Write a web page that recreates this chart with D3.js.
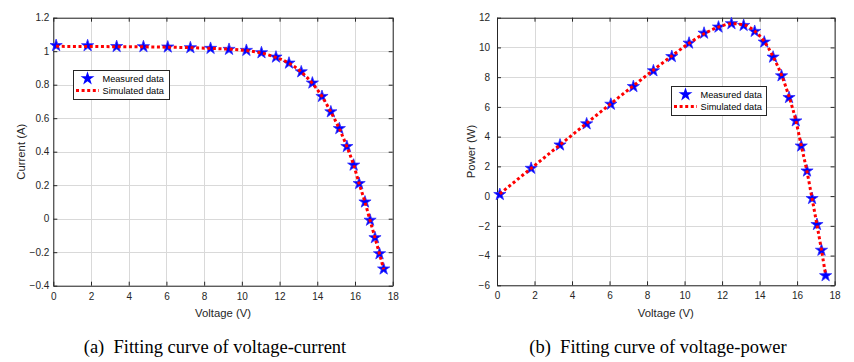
<!DOCTYPE html>
<html><head><meta charset="utf-8">
<script src="https://cdn.jsdelivr.net/npm/d3@7"></script>
<style>
html,body{margin:0;padding:0;background:#fff;}
svg{display:block;}
</style></head>
<body>
<svg id="c" width="854" height="362"></svg>
<script>
// ---- data ----
const measuredVoltage = [0.15, 1.82, 3.36, 4.78, 6.07, 7.27, 8.34, 9.32, 10.24, 11.04, 11.81, 12.5, 13.15, 13.74, 14.25, 14.72, 15.17, 15.57, 15.93, 16.22, 16.53, 16.8, 17.06, 17.3, 17.52];
const measuredCurrent = [1.034, 1.033, 1.028, 1.027, 1.025, 1.021, 1.017, 1.011, 1.005, 0.991, 0.965, 0.929, 0.877, 0.81, 0.73, 0.638, 0.538, 0.431, 0.32, 0.21, 0.1, -0.009, -0.113, -0.209, -0.3];
const measuredPower = [0.11, 1.87, 3.44, 4.86, 6.18, 7.37, 8.43, 9.39, 10.29, 10.96, 11.37, 11.6, 11.48, 11.08, 10.36, 9.35, 8.09, 6.63, 5.06, 3.37, 1.69, -0.16, -1.91, -3.64, -5.35];
const simVoltage = [0.15, 1.82, 3.36, 4.78, 6.07, 7.27, 8.34, 9.32, 10.24, 11.04, 11.81, 12.5, 13.15, 13.74, 14.25, 14.72, 15.17, 15.57, 15.93, 16.22, 16.53, 16.8, 17.06, 17.3, 17.52];
const simCurrent = [1.029, 1.028, 1.027, 1.026, 1.024, 1.021, 1.017, 1.012, 1.004, 0.989, 0.963, 0.928, 0.876, 0.808, 0.73, 0.637, 0.537, 0.43, 0.32, 0.21, 0.099, -0.01, -0.114, -0.21, -0.302];
const simPower = [0.15, 1.87, 3.45, 4.9, 6.22, 7.42, 8.48, 9.43, 10.28, 10.92, 11.37, 11.6, 11.52, 11.1, 10.4, 9.38, 8.14, 6.69, 5.1, 3.41, 1.64, -0.17, -1.94, -3.63, -5.29];
const xTicks = [0, 2, 4, 6, 8, 10, 12, 14, 16, 18];
const currentTicks = [-0.4, -0.2, 0, 0.2, 0.4, 0.6, 0.8, 1, 1.2];
const powerTicks = [-6, -4, -2, 0, 2, 4, 6, 8, 10, 12];
const legendLabels = ["Measured data", "Simulated data"];
const captions = ["(a)\u2002Fitting curve of voltage-current", "(b)\u2002Fitting curve of voltage-power"];
const xLabel = "Voltage (V)";
const yLabels = ["Current (A)", "Power (W)"];

const svg = d3.select("#c");
const FONT = "Liberation Sans, Arial, sans-serif";

function chart(cfg) {
  const g = svg.append("g");
  const x = d3.scaleLinear().domain([0, 18]).range([cfg.left, cfg.right]);
  const y = d3.scaleLinear().domain(cfg.ydom).range([cfg.bottom, cfg.top]);
  // grid
  g.append("g").selectAll("line").data(xTicks).join("line")
    .attr("x1", d => Math.round(x(d)) + 0.5).attr("x2", d => Math.round(x(d)) + 0.5)
    .attr("y1", cfg.top).attr("y2", cfg.bottom)
    .attr("stroke", "#d9d9d9").attr("stroke-width", 1);
  g.append("g").selectAll("line").data(cfg.yticks).join("line")
    .attr("y1", d => Math.round(y(d)) + 0.5).attr("y2", d => Math.round(y(d)) + 0.5)
    .attr("x1", cfg.left).attr("x2", cfg.right)
    .attr("stroke", "#d9d9d9").attr("stroke-width", 1);
  // axes
  const tl = 4;
  const ax = [
    [d3.axisBottom(x).tickValues(xTicks).tickSizeInner(-tl).tickSizeOuter(0).tickPadding(7), `translate(0,${cfg.bottom})`, true],
    [d3.axisTop(x).tickValues(xTicks).tickSizeInner(-tl).tickSizeOuter(0).tickFormat(""), `translate(0,${cfg.top})`, false],
    [d3.axisLeft(y).tickValues(cfg.yticks).tickSizeInner(-tl).tickSizeOuter(0).tickPadding(cfg.ypad).tickFormat(d3.format("")), `translate(${cfg.left},0)`, true],
    [d3.axisRight(y).tickValues(cfg.yticks).tickSizeInner(-tl).tickSizeOuter(0).tickFormat(""), `translate(${cfg.right},0)`, false]
  ];
  ax.forEach(([a, t]) => {
    const ag = g.append("g").attr("transform", t).call(a);
    ag.select(".domain").attr("stroke", "#262626");
    ag.selectAll(".tick line").attr("stroke", "#262626");
    ag.selectAll("text").attr("font-family", FONT).attr("font-size", 10).attr("fill", "#262626");
  });
  // stars
  const star = d3.symbol().type(d3.symbolStar).size(46);
  g.append("g").selectAll("path").data(measuredVoltage).join("path")
    .attr("transform", (d, i) => `translate(${x(d)},${y(cfg.meas[i])})`)
    .attr("d", star).attr("fill", "#0000ff").attr("stroke", "#3030ff").attr("stroke-width", 0.8);
  // simulated line
  const line = d3.line().x((d, i) => x(simVoltage[i])).y(d => y(d)).curve(d3.curveMonotoneX);
  g.append("path").datum(cfg.sim).attr("d", line)
    .attr("fill", "none").attr("stroke", "#ff0000").attr("stroke-width", 3)
    .attr("stroke-dasharray", "3,2.6");
  // labels
  g.append("text").attr("x", (cfg.left + cfg.right) / 2).attr("y", 317)
    .attr("text-anchor", "middle").attr("font-family", FONT).attr("font-size", 11.3).attr("fill", "#262626")
    .text(xLabel);
  g.append("text").attr("transform", `translate(${cfg.ylx},${(cfg.top + cfg.bottom) / 2}) rotate(-90)`)
    .attr("text-anchor", "middle").attr("font-family", FONT).attr("font-size", 11.3).attr("fill", "#262626")
    .text(cfg.ylabel);
  g.append("text").attr("x", cfg.capx).attr("y", 353)
    .attr("text-anchor", "middle").attr("font-family", "Liberation Serif, Times New Roman, serif").attr("font-size", 18.5).attr("fill", "#000")
    .text(cfg.caption);
  // legend
  const L = cfg.legend;
  const lg = g.append("g");
  lg.append("rect").attr("x", L.x + 0.5).attr("y", L.y + 0.5).attr("width", L.w).attr("height", L.h)
    .attr("fill", "#fff").attr("stroke", "#262626").attr("stroke-width", 1);
  lg.append("path").attr("transform", `translate(${L.x + 14.5},${L.y + 8.5})`)
    .attr("d", d3.symbol().type(d3.symbolStar).size(60)).attr("fill", "#0000ff");
  lg.append("line").attr("x1", L.x + 3).attr("x2", L.x + 26).attr("y1", L.y + 20.5).attr("y2", L.y + 20.5)
    .attr("stroke", "#ff0000").attr("stroke-width", 3).attr("stroke-dasharray", "3,2.6");
  legendLabels.forEach((t, i) => {
    lg.append("text").attr("x", L.x + 29.5).attr("y", L.y + 11.5 + i * 12)
      .attr("font-family", FONT).attr("font-size", 9.2).attr("fill", "#000").text(t);
  });
}

chart({left: 53.3, right: 392.7, top: 17.7, bottom: 285.7, ydom: [-0.4, 1.2], yticks: currentTicks,
  meas: measuredCurrent, sim: simCurrent, ypad: 4, ylx: 25, ylabel: yLabels[0], caption: captions[0], capx: 215,
  legend: {x: 73, y: 70, w: 96, h: 29}});
chart({left: 497, right: 834.6, top: 17.7, bottom: 285.3, ydom: [-6, 12], yticks: powerTicks,
  meas: measuredPower, sim: simPower, ypad: 7, ylx: 475, ylabel: yLabels[1], caption: captions[1], capx: 658,
  legend: {x: 671, y: 86, w: 95, h: 29}});
</script>
</body></html>
